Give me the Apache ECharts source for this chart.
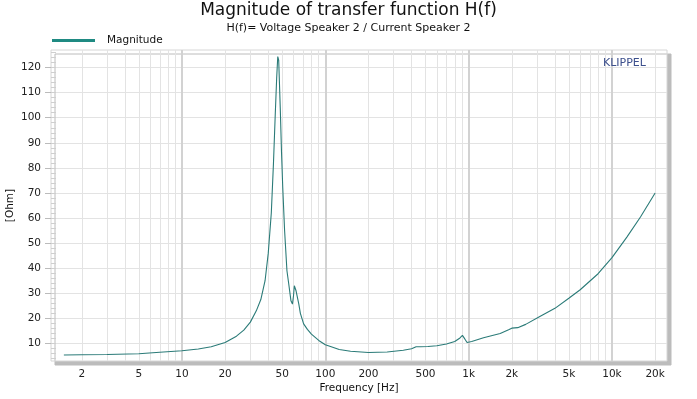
<!DOCTYPE html>
<html>
<head>
<meta charset="utf-8">
<script src="https://cdn.jsdelivr.net/npm/echarts@6/dist/echarts.min.js"></script>
<style>
html,body{margin:0;padding:0;background:#fff}
#chart{width:697px;height:399px}
</style>
</head>
<body>
<div id="chart"></div>
<script>
// impedance curve
var freqs = [1.5, 2, 3, 5, 7, 10, 13, 16, 20, 24, 27, 30, 33, 35.5, 38, 40, 42, 43.5, 44.8, 45.8, 46.6, 47.3, 48.5, 49.5, 50.5, 52, 54, 55.5, 57.6, 59, 60, 60.8, 62.5, 65.3, 67, 70.6, 75, 80, 90, 100, 110, 125, 150, 200, 270, 350, 400, 430, 460, 520, 600, 700, 800, 870, 905, 940, 975, 1050, 1270, 1660, 1900, 2000, 2200, 2500, 3160, 4000, 5000, 6000, 8000, 10000, 12700, 15800, 20000];
var ohms = [5.4, 5.5, 5.6, 5.9, 6.5, 7.1, 7.8, 8.7, 10.4, 12.9, 15.3, 18.5, 23, 27.5, 35, 46, 62, 82, 102, 116, 124.4, 123, 104, 86, 72, 55, 39, 34, 27, 25.7, 29, 33, 31, 25.8, 22, 17.8, 15.6, 13.7, 11.2, 9.5, 8.7, 7.6, 6.9, 6.4, 6.6, 7.3, 7.9, 8.7, 8.7, 8.8, 9.1, 9.8, 10.8, 12.2, 13.2, 11.8, 10.4, 10.8, 12.3, 14, 15.5, 16.1, 16.3, 17.6, 20.8, 24, 28, 31.4, 37.8, 44.2, 52.4, 60.4, 70];

var labelFreqs = [2, 5, 10, 20, 50, 100, 200, 500, 1000, 2000, 5000, 10000, 20000];
var decadeFreqs = [10, 100, 1000, 10000];
var minorFreqs = [2, 3, 4, 5, 6, 7, 8, 9, 20, 30, 40, 50, 60, 70, 80, 90, 200, 300, 400, 500, 600, 700, 800, 900, 2000, 3000, 4000, 5000, 6000, 7000, 8000, 9000, 20000];
var yTicks = [10, 20, 30, 40, 50, 60, 70, 80, 90, 100, 110, 120];
var yMinorTicks = [4, 6, 8, 10, 12, 14, 16, 18, 20, 22, 24, 26, 28, 30, 32, 34, 36, 38, 40, 42, 44, 46, 48, 50, 52, 54, 56, 58, 60, 62, 64, 66, 68, 70, 72, 74, 76, 78, 80, 82, 84, 86, 88, 90, 92, 94, 96, 98, 100, 102, 104, 106, 108, 110, 112, 114, 116, 118, 120, 122, 124, 126];

var FONT = 'DejaVu Sans, Verdana, sans-serif';
var fMin = 1.22, fMax = 24200, yMin = 3, yMax = 127;

var chart = echarts.init(document.getElementById('chart'));

chart.setOption({
  backgroundColor: '#fff',
  animation: false,
  title: [
    {
      text: 'Magnitude of transfer function H(f)',
      subtext: 'H(f)= Voltage Speaker 2 / Current Speaker 2',
      left: 'center',
      top: 2,
      padding: [0, 0, 0, 0],
      itemGap: 4,
      textStyle: {fontFamily: FONT, fontSize: 17, fontWeight: 'normal', color: '#111'},
      subtextStyle: {fontFamily: FONT, fontSize: 11, color: '#111'}
    },
    {
      text: 'KLIPPEL',
      left: 603,
      top: 58,
      padding: 0,
      textStyle: {fontFamily: FONT, fontSize: 11, fontWeight: 'normal', color: '#3c4f8c'}
    }
  ],
  legend: {
    left: 52,
    top: 35,
    padding: 0,
    icon: 'rect',
    itemWidth: 43,
    itemHeight: 3,
    textStyle: {fontFamily: FONT, fontSize: 10.5, color: '#111', padding: [0, 0, 0, 7]},
    data: ['Magnitude']
  },
  grid: {
    left: 51, top: 50, right: 30, bottom: 38,
    outerBoundsMode: 'none',
    show: true,
    backgroundColor: '#fff',
    borderColor: '#d6d6d6',
    borderWidth: 1,
    shadowColor: '#bcbcbc',
    shadowBlur: 0,
    shadowOffsetX: 4,
    shadowOffsetY: 4
  },
  xAxis: [
    {
      type: 'log', logBase: 10, min: fMin, max: fMax,
      position: 'bottom',
      name: 'Frequency [Hz]', nameLocation: 'middle', nameGap: 22,
      nameMoveOverlap: false,
      nameTextStyle: {fontFamily: FONT, fontSize: 10.5, color: '#111'},
      axisLine: {show: false},
      axisTick: {show: false, customValues: minorFreqs},
      axisLabel: {
        customValues: labelFreqs, margin: 8,
        fontFamily: FONT, fontSize: 10.5, color: '#222',
        formatter: function (v) {
          v = Math.round(v);
          return v >= 1000 ? (v / 1000) + 'k' : String(v);
        }
      },
      splitLine: {show: true, lineStyle: {color: '#e3e3e3', width: 1}}
    },
    {
      type: 'log', logBase: 10, min: fMin, max: fMax,
      position: 'bottom',
      axisLine: {show: false},
      axisTick: {show: false, customValues: decadeFreqs},
      axisLabel: {show: false},
      splitLine: {show: true, lineStyle: {color: '#d2d2d2', width: 2}}
    }
  ],
  yAxis: [
    {
      type: 'value', min: yMin, max: yMax,
      position: 'left',
      name: '[Ohm]', nameLocation: 'middle', nameGap: 35, nameRotate: 90,
      nameMoveOverlap: false,
      nameTextStyle: {fontFamily: FONT, fontSize: 10.5, color: '#111'},
      axisLine: {show: false},
      axisTick: {show: true, inside: false, length: 6, customValues: yTicks, lineStyle: {color: '#bbb'}},
      axisLabel: {customValues: yTicks, margin: 10, fontFamily: FONT, fontSize: 10.5, color: '#222'},
      splitLine: {show: true, lineStyle: {color: '#e3e3e3', width: 1}}
    },
    {
      type: 'value', min: yMin, max: yMax,
      position: 'left',
      axisLine: {show: false},
      axisTick: {show: true, inside: true, length: 5, customValues: yMinorTicks, lineStyle: {color: '#cfcfcf'}},
      axisLabel: {show: false},
      splitLine: {show: false}
    }
  ],
  series: [
    {
      name: 'Magnitude',
      type: 'line',
      xAxisIndex: 0,
      yAxisIndex: 0,
      showSymbol: false,
      symbol: 'none',
      smooth: false,
      color: '#1f8a82',
      lineStyle: {color: '#2b7b78', width: 1.1},
      data: freqs.map(function (f, i) { return [f, ohms[i]]; })
    }
  ]
});
</script>
</body>
</html>
